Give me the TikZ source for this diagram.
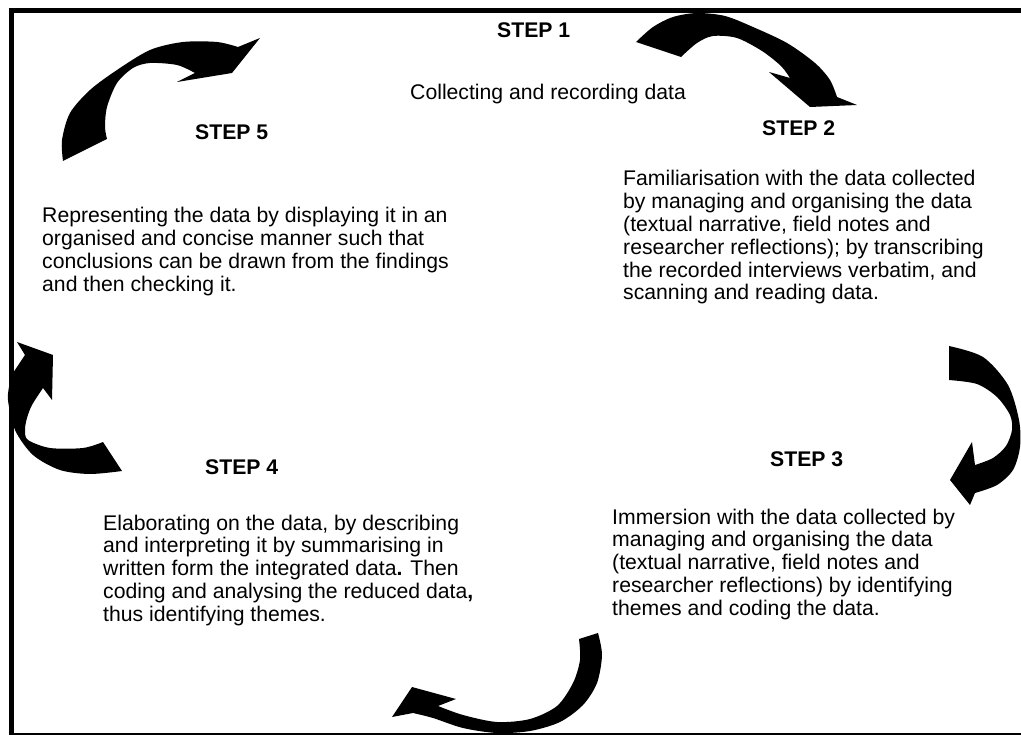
\documentclass[tikz,border=0pt]{standalone}
\usepackage{fontspec}
\setmainfont{Liberation Sans}
\begin{document}
\begin{tikzpicture}[x=1pt,y=-1pt,
  txt/.style={anchor=base west,inner sep=0pt,font=\fontsize{21.2}{22.8}\selectfont},
  steplabel/.style={anchor=base west,inner sep=0pt,font=\fontsize{21.2}{22.8}\selectfont\bfseries},
  blockarrow/.style={fill=black}]
\useasboundingbox (0,0) rectangle (1021,735);
% frame
\draw[line width=5pt] (11,735) -- (11,10.5) -- (1021,10.5);
\draw[line width=1.5pt] (11,734) -- (1021,734);
% texts
\node[steplabel] (s1) at (497,38) {STEP 1};
\node[txt] (t1) at (410,100) {Collecting and recording data};
\node[steplabel] (s2) at (762,136) {STEP 2};
\node[txt] (t2) at (623,186) {\begin{tabular}[t]{@{}l@{}}Familiarisation with the data collected\\by managing and organising the data\\(textual narrative, field notes and\\researcher reflections); by transcribing\\the recorded interviews verbatim, and\\scanning and reading data.\end{tabular}};
\node[steplabel] (s3) at (770,467) {STEP 3};
\node[txt] (t3) at (612,524) {\begin{tabular}[t]{@{}l@{}}Immersion with the data collected by\\managing and organising the data\\(textual narrative, field notes and\\researcher reflections) by identifying\\themes and coding the data.\end{tabular}};
\node[steplabel] (s4) at (205,475) {STEP 4};
\node[txt] (t4) at (103,530) {\begin{tabular}[t]{@{}l@{}}Elaborating on the data, by describing\\and interpreting it by summarising in\\written form the integrated data\textbf{.} Then\\coding and analysing the reduced data\textbf{,}\\thus identifying themes.\end{tabular}};
\node[steplabel] (s5) at (195,140) {STEP 5};
\node[txt] (t5) at (42,223) {\begin{tabular}[t]{@{}l@{}}Representing the data by displaying it in an\\organised and concise manner such that\\conclusions can be drawn from the findings\\and then checking it.\end{tabular}};
% arrow 1 (step 1 -> step 2)
\fill[blockarrow] plot[smooth] coordinates {(636,42) (653,27) (673,17) (697,13) (725,16) (753,27) (787,43) (815,63) (830,80) (837,97)}
  -- (857,105) -- (810,107) -- (769,72) -- (790,78)
  -- plot[smooth] coordinates {(790,78) (781,66) (762,51) (737,38) (713,36) (697,43) (681,57)} -- cycle;
% arrow 2 (step 2 -> step 3)
\fill[blockarrow] plot[smooth] coordinates {(949,346) (983,357) (1008,385) (1019,420) (1020,447) (1013,470) (997,485) (975,493)}
  -- (970,505) -- (950,480) -- (972,442) -- (975,465)
  -- plot[smooth] coordinates {(975,465) (993,458) (1006,446) (1012,430) (1010,415) (997,397) (977,384) (949,380)} -- cycle;
% arrow 3 (step 3 -> step 4)
\fill[blockarrow] plot[smooth] coordinates {(598,633) (602,655) (597,683) (583,705) (560,722) (530,731) (497,733) (463,728) (433,718) (413,713)}
  -- (392,717) -- (412,687) -- (456,699) -- (438,706)
  -- plot[smooth] coordinates {(438,706) (463,715) (497,722) (530,719) (557,706) (573,683) (580,660) (579,639)} -- cycle;
% arrow 4 (step 4 -> step 5)
\fill[blockarrow] (17,342) -- (53,355) -- (52,400) -- (43,388)
  -- plot[smooth] coordinates {(43,388) (32,405) (27,418) (25,430) (28,440) (50,448) (83,448) (103,442)}
  -- (122,471)
  -- plot[smooth] coordinates {(122,471) (90,474) (60,470) (33,455) (15,430) (8,400) (10,382) (13,373)}
  -- (25,355) -- cycle;
% arrow 5 (step 5 -> step 1)
\fill[blockarrow] plot[smooth] coordinates {(63,161) (62,140) (70,113) (90,90) (117,70) (150,50) (183,42) (217,42) (238,47)}
  -- (260,38) -- (232,73) -- (177,82) -- (195,73)
  -- plot[smooth] coordinates {(195,73) (177,65) (150,63) (133,68) (117,83) (107,107) (105,127) (107,139)} -- cycle;
\end{tikzpicture}
\end{document}
